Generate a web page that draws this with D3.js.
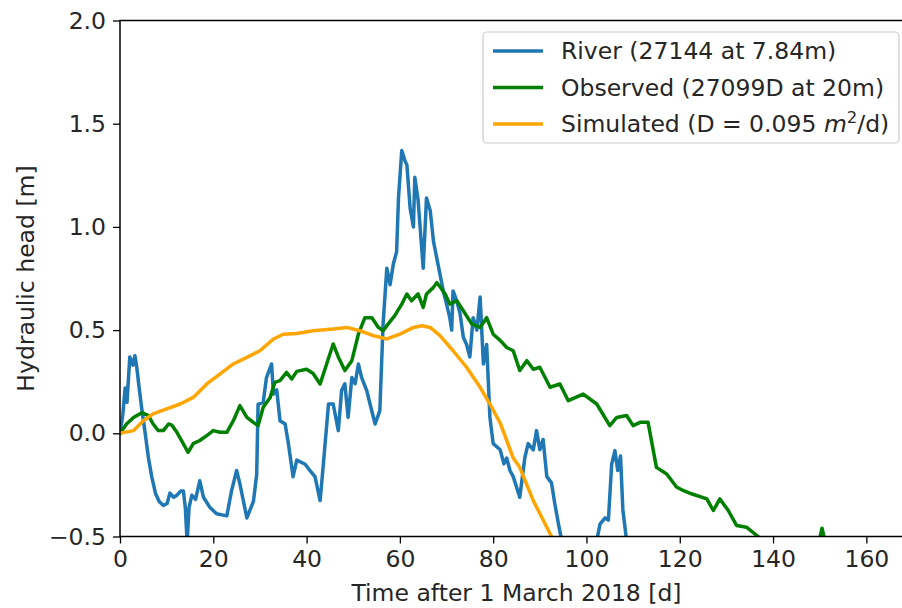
<!DOCTYPE html>
<html>
<head>
<meta charset="utf-8">
<script src="https://cdn.jsdelivr.net/npm/d3@7"></script>
<style>
  body { margin: 0; background: #fff; }
  svg { display: block; }
  text { font-family: "DejaVu Sans", sans-serif; fill: #262626; }
</style>
</head>
<body>
<svg id="chart" width="902" height="608"></svg>
<script>
// ---- data ----
const riverDays = [0, 0.6, 1.1, 1.5, 2.1, 2.8, 3.2, 3.6, 4.0, 4.6, 5.4, 6.1, 6.8, 7.6, 8.4, 9.3, 10.1, 10.7, 11.5, 12.2, 13.0, 13.6, 14.0, 14.4, 14.8, 15.4, 16.2, 17.1, 17.9, 19.3, 20.7, 22.9, 23.9, 25.0, 25.7, 27.2, 28.6, 29.3, 29.6, 30.7, 31.4, 32.5, 32.9, 33.6, 34.3, 35.4, 36.1, 37.1, 37.9, 39.7, 40.7, 41.8, 42.9, 43.6, 44.7, 45.7, 46.8, 47.5, 48.2, 48.9, 49.7, 50.4, 51.1, 51.8, 52.9, 53.6, 54.7, 55.7, 56.4, 57.2, 57.9, 58.6, 59.3, 59.7, 60.4, 61.1, 61.5, 62.2, 62.9, 63.2, 63.9, 65.0, 65.7, 66.5, 67.2, 67.9, 68.6, 69.3, 70.0, 70.7, 71.1, 71.4, 72.2, 72.9, 73.6, 74.3, 75.0, 75.7, 76.5, 77.2, 77.9, 78.6, 79.3, 80.0, 81.5, 82.3, 82.9, 83.6, 84.3, 85.7, 86.8, 87.5, 88.6, 89.3, 90.0, 90.7, 91.5, 92.5, 93.2, 94.0, 94.7, 96.0, 100.0, 102.2, 102.9, 104.0, 104.7, 105.4, 106.1, 106.7, 107.3, 107.8, 108.6, 109.5];
const riverHead = [0.0, 0.09, 0.22, 0.15, 0.37, 0.33, 0.376, 0.32, 0.24, 0.13, 0.0, -0.12, -0.21, -0.29, -0.33, -0.35, -0.34, -0.29, -0.31, -0.30, -0.28, -0.28, -0.36, -0.53, -0.36, -0.30, -0.32, -0.23, -0.31, -0.36, -0.39, -0.40, -0.28, -0.18, -0.245, -0.41, -0.33, -0.2, 0.14, 0.15, 0.27, 0.336, 0.19, 0.21, 0.061, 0.045, -0.05, -0.21, -0.13, -0.15, -0.18, -0.21, -0.326, -0.148, 0.142, 0.142, 0.013, 0.207, 0.24, 0.077, 0.27, 0.24, 0.336, 0.27, 0.207, 0.142, 0.045, 0.11, 0.53, 0.80, 0.72, 0.82, 0.88, 1.14, 1.37, 1.32, 1.30, 1.09, 1.0, 1.24, 1.13, 0.80, 1.14, 1.08, 0.93, 0.85, 0.77, 0.69, 0.626, 0.56, 0.50, 0.69, 0.64, 0.58, 0.465, 0.43, 0.37, 0.56, 0.50, 0.66, 0.336, 0.43, 0.077, -0.05, -0.08, -0.148, -0.12, -0.18, -0.21, -0.31, -0.116, -0.05, -0.08, 0.013, -0.08, -0.03, -0.21, -0.24, -0.34, -0.44, -0.52, -0.6, -0.65, -0.52, -0.44, -0.41, -0.42, -0.15, -0.084, -0.18, -0.11, -0.37, -0.52, -0.65];

const observedDays = [0, 1.4, 2.9, 4.7, 6.1, 7.1, 8.2, 9.3, 10.4, 11.1, 12.2, 13.2, 14.6, 15.7, 17.1, 18.6, 20.0, 21.4, 22.9, 24.3, 25.7, 27.2, 28.6, 29.6, 30.7, 32.2, 33.2, 34.3, 35.7, 36.8, 37.9, 40.0, 41.4, 42.9, 44.3, 45.7, 46.8, 48.2, 49.7, 51.1, 52.5, 54.0, 55.4, 56.4, 57.5, 58.9, 60.4, 61.5, 62.5, 63.9, 65.0, 65.7, 67.2, 67.9, 68.6, 69.7, 70.7, 72.2, 73.6, 75.4, 77.2, 78.6, 80.0, 81.5, 82.9, 84.3, 85.7, 87.2, 88.6, 90.0, 92.2, 94.3, 96.1, 99.3, 102.2, 105.0, 106.5, 108.6, 110.0, 111.5, 113.2, 115.0, 117.2, 119.3, 120.7, 122.5, 125.8, 127.2, 128.6, 130.4, 132.2, 134.3, 136.8, 138.0, 145.0, 149.5, 150.5, 151.5, 155.0];
const observedHead = [0.0, 0.045, 0.077, 0.10, 0.086, 0.045, 0.013, 0.013, 0.045, 0.04, 0.005, -0.035, -0.092, -0.05, -0.035, -0.011, 0.013, 0.005, 0.005, 0.061, 0.134, 0.077, 0.053, 0.037, 0.126, 0.174, 0.247, 0.255, 0.295, 0.263, 0.30, 0.31, 0.29, 0.239, 0.336, 0.433, 0.37, 0.304, 0.352, 0.48, 0.56, 0.56, 0.513, 0.497, 0.53, 0.57, 0.626, 0.675, 0.642, 0.675, 0.61, 0.675, 0.707, 0.73, 0.71, 0.675, 0.626, 0.642, 0.594, 0.53, 0.513, 0.56, 0.48, 0.45, 0.416, 0.40, 0.304, 0.352, 0.31, 0.32, 0.223, 0.239, 0.158, 0.19, 0.142, 0.037, 0.077, 0.086, 0.037, 0.053, 0.053, -0.165, -0.197, -0.26, -0.277, -0.293, -0.318, -0.374, -0.318, -0.374, -0.447, -0.455, -0.5, -0.55, -0.6, -0.56, -0.46, -0.56, -0.62];

const simulatedDays = [0, 2.9, 5.0, 7.1, 10.0, 12.9, 15.7, 18.6, 21.4, 24.3, 27.2, 30.0, 32.9, 35.0, 37.9, 41.4, 45.7, 48.6, 51.4, 54.3, 57.2, 60.0, 62.9, 64.7, 66.5, 68.6, 71.4, 74.3, 77.2, 79.3, 81.5, 84.3, 85.7, 88.6, 92.5, 94.3];
const simulatedHead = [0.0, 0.013, 0.061, 0.094, 0.118, 0.142, 0.174, 0.239, 0.287, 0.336, 0.368, 0.40, 0.457, 0.48, 0.484, 0.497, 0.505, 0.513, 0.497, 0.473, 0.457, 0.48, 0.513, 0.521, 0.513, 0.473, 0.40, 0.32, 0.223, 0.142, 0.05, -0.12, -0.165, -0.326, -0.5, -0.58];

const xTicks = [0, 20, 40, 60, 80, 100, 120, 140, 160];
const yTicks = [-0.5, 0.0, 0.5, 1.0, 1.5, 2.0];
const seriesNames = ["River (27144 at 7.84m)", "Observed (27099D at 20m)", "Simulated (D = 0.095 "];
const seriesColors = ["#1f77b4", "#008000", "#ffa500"];

// ---- layout ----
const svg = d3.select("#chart");
const pLeft = 120, pTop = 20.5, pBottom = 536.5, pRight = 913;
const x = d3.scaleLinear().domain([0, 170]).range([pLeft, pRight]);
const y = d3.scaleLinear().domain([-0.5, 2.0]).range([pBottom, pTop]);
const FS = 23.5;

svg.append("defs").append("clipPath").attr("id", "plotclip")
  .append("rect").attr("x", pLeft).attr("y", pTop).attr("width", pRight - pLeft).attr("height", pBottom - pTop);

const line = d3.line().x(d => x(d[0])).y(d => y(d[1]));
const series = [
  d3.zip(riverDays, riverHead),
  d3.zip(observedDays, observedHead),
  d3.zip(simulatedDays, simulatedHead)
];
const plot = svg.append("g").attr("clip-path", "url(#plotclip)");
series.forEach((s, i) => {
  plot.append("path").datum(s)
    .attr("d", line)
    .attr("fill", "none")
    .attr("stroke", seriesColors[i])
    .attr("stroke-width", 3.5)
    .attr("stroke-linejoin", "round")
    .attr("stroke-linecap", "square");
});

// axes
const xAxis = d3.axisBottom(x).tickValues(xTicks).tickFormat(d3.format("d")).tickSize(7).tickPadding(6);
const yAxis = d3.axisLeft(y).tickValues(yTicks).tickFormat(d3.format(".1f")).tickSize(7).tickPadding(7);
const gx = svg.append("g").attr("transform", `translate(0,${pBottom})`).call(xAxis);
const gy = svg.append("g").attr("transform", `translate(${pLeft},0)`).call(yAxis);
[gx, gy].forEach(g => {
  g.select(".domain").remove();
  g.selectAll(".tick line").attr("stroke", "#000").attr("stroke-width", 1.3);
  g.selectAll(".tick text").attr("font-size", FS).attr("font-family", "DejaVu Sans").attr("fill", "#262626");
});
gx.selectAll(".tick text").attr("dy", "0.76em");

// spines
svg.append("rect").attr("x", pLeft).attr("y", pTop).attr("width", pRight - pLeft).attr("height", pBottom - pTop)
  .attr("stroke", "#000").attr("stroke-width", 1.5).attr("fill", "none");

// axis labels
svg.append("text").attr("x", (pLeft + pRight) / 2).attr("y", 601)
  .attr("text-anchor", "middle").attr("font-size", FS)
  .text("Time after 1 March 2018 [d]");
svg.append("text").attr("transform", `translate(34,${(pTop + pBottom) / 2}) rotate(-90)`)
  .attr("text-anchor", "middle").attr("font-size", FS)
  .text("Hydraulic head [m]");

// legend
const lg = svg.append("g");
lg.append("rect").attr("x", 483).attr("y", 32).attr("width", 416).attr("height", 111)
  .attr("rx", 4).attr("fill", "#fff").attr("fill-opacity", 0.8)
  .attr("stroke", "#cccccc").attr("stroke-width", 1.2);
const rowY = [51, 87.5, 124];
seriesNames.forEach((name, i) => {
  lg.append("line").attr("x1", 493).attr("x2", 543).attr("y1", rowY[i]).attr("y2", rowY[i])
    .attr("stroke", seriesColors[i]).attr("stroke-width", 3.5);
  const t = lg.append("text").attr("x", 561).attr("y", rowY[i]).attr("dy", "0.36em")
    .attr("font-size", FS);
  t.append("tspan").text(name);
  if (i === 2) {
    t.append("tspan").attr("font-style", "italic").text("m");
    t.append("tspan").attr("font-size", FS * 0.7).attr("dy", "-0.55em").text("2");
    t.append("tspan").attr("dy", "0.38em").text("/d)");
  }
});
</script>
</body>
</html>
